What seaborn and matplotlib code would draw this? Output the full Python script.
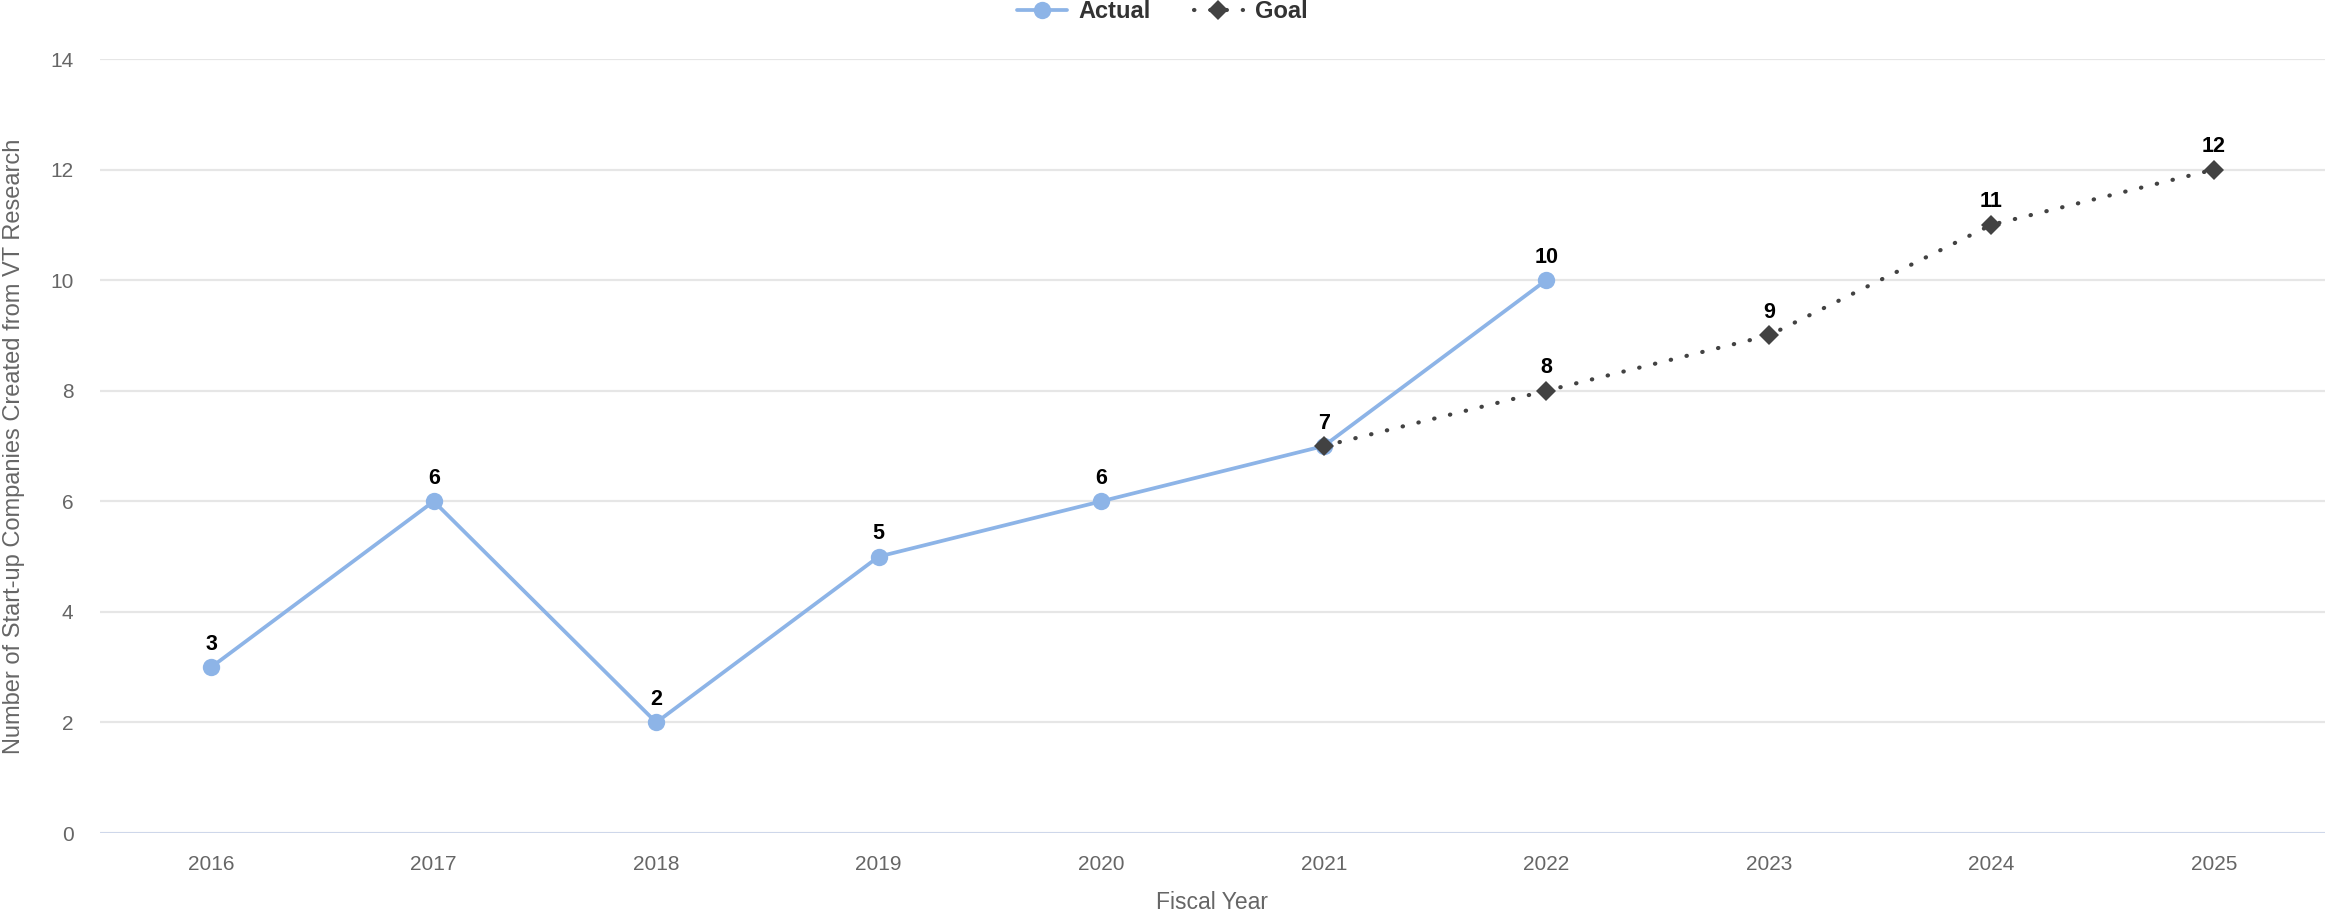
import matplotlib
matplotlib.use("Agg")
import matplotlib.pyplot as plt
import seaborn as sns
import pandas as pd

# Start-up companies created from VT research, by fiscal year
actual_years = [2016, 2017, 2018, 2019, 2020, 2021, 2022]
actual_values = [3, 6, 2, 5, 6, 7, 10]
goal_years = [2021, 2022, 2023, 2024, 2025]
goal_values = [7, 8, 9, 11, 12]
all_years = [2016, 2017, 2018, 2019, 2020, 2021, 2022, 2023, 2024, 2025]
y_ticks = [0, 2, 4, 6, 8, 10, 12, 14]

sns.set_theme(style="white")
plt.rcParams["font.family"] = ["Liberation Sans", "DejaVu Sans"]

ACTUAL_COLOR = "#8db4e7"
GOAL_COLOR = "#424242"
TICK_COLOR = "#666666"

actual_df = pd.DataFrame({"year": actual_years, "value": actual_values})
goal_df = pd.DataFrame({"year": goal_years, "value": goal_values})

fig = plt.figure(figsize=(23.25, 9.14), dpi=100)
ax = fig.add_axes([0.043, 0.0886, 0.957, 0.8468])

sns.lineplot(data=actual_df, x="year", y="value", ax=ax, color=ACTUAL_COLOR,
             linewidth=2.7, marker="o", markersize=12.5, markeredgewidth=0,
             label="Actual", zorder=3)
sns.lineplot(data=goal_df, x="year", y="value", ax=ax, color=GOAL_COLOR,
             linewidth=3.0, linestyle=(0, (0.1, 3.8)), dash_capstyle="round",
             marker="D", markersize=10, markeredgewidth=0,
             label="Goal", zorder=4)

# value labels above each point (the shared 2021 point is labelled once)
labelled = set()
for xs, ys in ((actual_years, actual_values), (goal_years, goal_values)):
    for x, y in zip(xs, ys):
        if (x, y) in labelled:
            continue
        labelled.add((x, y))
        ax.annotate(str(y), (x, y), xytext=(0, 9), textcoords="offset points",
                    ha="center", va="bottom", fontsize=15.5, fontweight="bold",
                    color="black", zorder=5)

ax.set_xlim(all_years[0] - 0.5, all_years[-1] + 0.5)
ax.set_ylim(0, 14)
ax.set_xticks(all_years)
ax.set_xticklabels([str(y) for y in all_years])
ax.set_yticks(y_ticks)

ax.grid(axis="y", color="#e6e6e6", linewidth=1.6)
ax.grid(axis="x", visible=False)
ax.axhline(0, color="#ccd6eb", linewidth=2, zorder=1)
for s in ax.spines.values():
    s.set_visible(False)

ax.tick_params(axis="both", length=0, labelsize=15, labelcolor=TICK_COLOR)
ax.tick_params(axis="x", pad=16)
ax.tick_params(axis="y", pad=19)

ax.set_xlabel("Fiscal Year", fontsize=16.5, color=TICK_COLOR)
ax.xaxis.set_label_coords(0.5, -0.075)
ax.set_ylabel("Number of Start-up Companies Created from VT Research",
              fontsize=17, color=TICK_COLOR)
ax.yaxis.set_label_coords(-0.0335, 0.5)

ax.get_legend().remove()
handles, labels = ax.get_legend_handles_labels()
fig.legend(handles, labels, loc="center", bbox_to_anchor=(0.5, 0.987), ncol=2,
           frameon=False, prop={"weight": "bold", "size": 17},
           handlelength=2.1, columnspacing=1.8, handletextpad=0.5,
           labelcolor="#333333")

fig.savefig("out.png", dpi=100, facecolor="white")
